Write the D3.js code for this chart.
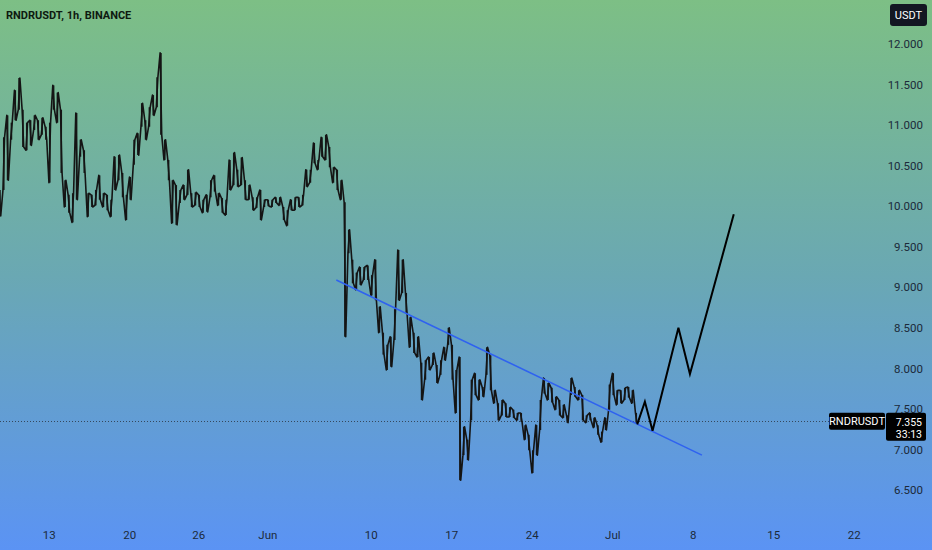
<!DOCTYPE html>
<html>
<head>
<meta charset="utf-8">
<script src="https://cdn.jsdelivr.net/npm/d3@7/dist/d3.min.js"></script>
<style>
  html, body { margin: 0; padding: 0; }
  body { width: 932px; height: 550px; overflow: hidden; }
  svg { display: block; }
  text { font-family: Roboto, "Noto Sans", sans-serif; }
</style>
</head>
<body>
<svg id="chart" width="932" height="550"></svg>
<script>
// ---------------- data ----------------
const title = "RNDRUSDT, 1h, BINANCE";
const currency = "USDT";
const symbol = "RNDRUSDT";
const lastPrice = 7.355;
const countdown = "33:13";

// 8-hour bars starting 2024-05-08 18:00
const barStart = "2024-05-08T18:00:00";
const barHours = 8;
const hi = [10.20,10.85,11.12,11.03,11.43,11.58,11.19,11.03,11.06,11.12,11.06,11.09,10.98,11.03,11.49,11.40,11.19,10.32,10.14,10.16,
            11.15,10.82,10.69,10.16,10.14,10.20,10.38,10.16,10.14,10.08,10.61,10.63,10.41,10.14,10.36,10.82,10.90,11.27,11.06,11.22,
            11.37,11.59,11.89,10.82,10.57,10.32,10.26,10.20,10.26,10.45,10.16,10.17,10.14,10.08,10.14,10.32,10.38,10.16,10.10,10.08,
            10.57,10.66,10.45,10.60,10.32,10.26,10.11,10.11,10.20,10.08,10.08,10.08,10.11,10.11,9.99,9.95,10.08,10.11,10.11,10.14,
            10.45,10.45,10.78,10.57,10.85,10.88,10.73,10.48,10.45,10.32,10.05,9.71,9.34,9.18,9.25,9.25,9.27,9.15,9.34,8.76,
            8.44,8.29,8.39,8.73,9.46,9.34,8.93,8.63,8.44,8.39,8.07,8.10,8.14,8.19,8.04,8.10,8.26,8.50,8.29,7.98,
            8.14,7.28,7.12,7.86,7.94,7.86,7.77,8.26,8.16,7.73,7.57,7.61,7.57,7.52,7.49,7.45,7.45,7.30,7.18,6.99,
            7.30,7.61,7.88,7.82,7.76,7.65,7.61,7.55,7.42,7.88,7.77,7.73,7.67,7.42,7.45,7.39,7.30,7.22,7.39,7.80,
            7.94,7.73,7.73,7.76,7.77,7.73,7.45];
const lo = [9.88,10.20,10.32,10.82,11.06,11.19,10.73,10.69,10.75,10.94,10.82,10.88,10.82,10.29,11.19,11.03,10.41,9.99,9.92,9.80,
            10.08,10.61,10.41,9.87,9.99,10.01,10.08,9.99,9.95,9.87,10.20,10.32,10.11,9.83,10.08,10.51,10.63,10.98,10.82,10.98,
            11.12,11.22,10.88,10.57,10.32,9.79,9.77,10.04,10.08,10.14,9.99,10.01,9.99,9.92,9.93,10.11,10.18,10.01,9.92,9.89,
            10.20,10.26,10.24,10.26,10.08,10.08,9.95,9.98,9.83,9.99,10.00,9.99,10.04,10.01,9.83,9.76,9.95,9.95,9.99,10.01,
            10.24,10.29,10.53,10.45,10.61,10.57,10.48,10.29,10.20,10.08,8.39,9.42,9.05,8.97,9.03,9.09,9.09,8.90,8.84,8.44,
            8.17,7.98,8.02,8.35,8.84,8.93,8.68,8.26,8.19,8.14,7.61,7.86,7.98,8.04,7.82,7.92,8.10,8.29,7.86,7.45,
            6.62,6.93,6.87,7.36,7.67,7.61,7.65,7.92,7.73,7.57,7.36,7.42,7.40,7.40,7.39,7.36,7.34,7.12,6.99,6.71,
            6.93,7.24,7.69,7.61,7.58,7.49,7.42,7.39,7.33,7.67,7.65,7.61,7.36,7.33,7.36,7.27,7.18,7.09,7.24,7.49,
            7.67,7.55,7.57,7.61,7.64,7.57,7.32];

// blue trendline (date, price)
const trendDates = ["2024-06-07T00:00:00", "2024-07-08T19:00:00"];
const trendPrices = [9.09, 6.93];

// projected path (date, price)
const projDates = ["2024-07-03T04:00:00","2024-07-03T20:00:00","2024-07-04T12:00:00","2024-07-06T18:00:00","2024-07-07T18:00:00","2024-07-11T13:30:00"];
const projPrices = [7.31, 7.59, 7.23, 8.50, 7.93, 9.90];

// axis ticks
const priceTicks = [6.5, 7, 7.5, 8, 8.5, 9, 9.5, 10, 10.5, 11, 11.5, 12];
const timeTickDates = ["2024-05-13","2024-05-20","2024-05-26","2024-06-01","2024-06-10","2024-06-17","2024-06-24","2024-07-01","2024-07-08","2024-07-15","2024-07-22"];
const timeTickLabels = ["13","20","26","Jun","10","17","24","Jul","8","15","22"];

// ---------------- drawing ----------------
const W = 932, H = 550;
const svg = d3.select("#chart");

const defs = svg.append("defs");
const grad = defs.append("linearGradient").attr("id", "bg").attr("x1", 0).attr("y1", 0).attr("x2", 0).attr("y2", 1);
grad.append("stop").attr("offset", "0%").attr("stop-color", "#7dbf85");
grad.append("stop").attr("offset", "50%").attr("stop-color", "#6aa8b3");
grad.append("stop").attr("offset", "100%").attr("stop-color", "#5b93f4");
svg.append("rect").attr("width", W).attr("height", H).attr("fill", "url(#bg)");

const parse = s => new Date(s);
const x = d3.scaleTime()
  .domain([parse("2024-05-13T00:00:00"), parse("2024-07-22T00:00:00")])
  .range([48.8, 853.8]);
const y = d3.scaleLinear().domain([6.5, 12]).range([490, 44]);

const t0 = parse(barStart);
const bars = hi.map((h, i) => ({
  t: new Date(t0.getTime() + i * barHours * 3600e3),
  hi: h, lo: lo[i]
}));

// last price dotted line
svg.append("line")
  .attr("x1", 0).attr("x2", 829)
  .attr("y1", Math.round(y(lastPrice)) + 0.5).attr("y2", Math.round(y(lastPrice)) + 0.5)
  .attr("stroke", "#2a3440").attr("stroke-width", 1).attr("stroke-dasharray", "1,2").attr("opacity", 0.8);

// price path: zigzag through highs and lows
let pts = [];
bars.forEach((b, i) => {
  const xi = x(b.t);
  if (i % 2 === 0) { pts.push([xi - 0.8, y(b.hi)]); pts.push([xi + 0.8, y(b.lo)]); }
  else { pts.push([xi - 0.8, y(b.lo)]); pts.push([xi + 0.8, y(b.hi)]); }
});
svg.append("path")
  .attr("d", d3.line()(pts))
  .attr("fill", "none").attr("stroke", "#151515").attr("stroke-width", 1.6)
  .attr("stroke-linejoin", "round");
// wicks
svg.append("g").selectAll("line").data(bars).join("line")
  .attr("x1", d => x(d.t)).attr("x2", d => x(d.t))
  .attr("y1", d => y(d.hi)).attr("y2", d => y(d.lo))
  .attr("stroke", "#151515").attr("stroke-width", 1.6);

// trendline
const trend = trendDates.map((d, i) => [x(parse(d)), y(trendPrices[i])]);
svg.append("path").attr("d", d3.line()(trend))
  .attr("fill", "none").attr("stroke", "#2f62f0").attr("stroke-width", 1.6);

// projection
const proj = projDates.map((d, i) => [x(parse(d)), y(projPrices[i])]);
svg.append("path").attr("d", d3.line()(proj))
  .attr("fill", "none").attr("stroke", "#000").attr("stroke-width", 2).attr("stroke-linejoin", "miter");

// right price axis
const yAxis = d3.axisRight(y).tickValues(priceTicks).tickSize(0).tickPadding(0)
  .tickFormat(d3.format(".3f"));
const gy = svg.append("g").attr("transform", "translate(923,0)").call(yAxis);
gy.select(".domain").remove();
gy.selectAll("text").attr("text-anchor", "end").attr("x", 0)
  .attr("fill", "#1b2a3a").attr("font-size", 11.5);

// bottom time axis
const xAxis = d3.axisBottom(x).tickValues(timeTickDates.map(parse)).tickSize(0).tickPadding(0)
  .tickFormat((d, i) => timeTickLabels[i]);
const gx = svg.append("g").attr("transform", "translate(0,530)").call(xAxis);
gx.select(".domain").remove();
gx.selectAll("text").attr("fill", "#1b2a3a").attr("font-size", 11.5).attr("dy", "0.8em");

// title
svg.append("text").attr("x", 6).attr("y", 19).text(title)
  .attr("font-size", 11).attr("font-weight", 700).attr("fill", "#0e1a10");

// currency badge
svg.append("rect").attr("x", 890).attr("y", 4).attr("width", 37).attr("height", 22).attr("rx", 3)
  .attr("fill", "#131722");
svg.append("text").attr("x", 908.5).attr("y", 19).attr("text-anchor", "middle").text(currency)
  .attr("font-size", 11).attr("fill", "#fff");

// last price labels
const ly = y(lastPrice);
svg.append("rect").attr("x", 829).attr("y", ly - 8).attr("width", 56).attr("height", 17).attr("rx", 2).attr("fill", "#000");
svg.append("text").attr("x", 857).attr("y", ly + 4.5).attr("text-anchor", "middle").text(symbol)
  .attr("font-size", 11).attr("fill", "#fff");
svg.append("rect").attr("x", 886).attr("y", ly - 8).attr("width", 40).attr("height", 28).attr("rx", 2).attr("fill", "#000");
svg.append("text").attr("x", 922).attr("y", ly + 5).attr("text-anchor", "end").text(d3.format(".3f")(lastPrice))
  .attr("font-size", 10.5).attr("fill", "#fff");
svg.append("text").attr("x", 922).attr("y", ly + 17.5).attr("text-anchor", "end").text(countdown)
  .attr("font-size", 10.5).attr("fill", "#fff");
</script>
</body>
</html>
